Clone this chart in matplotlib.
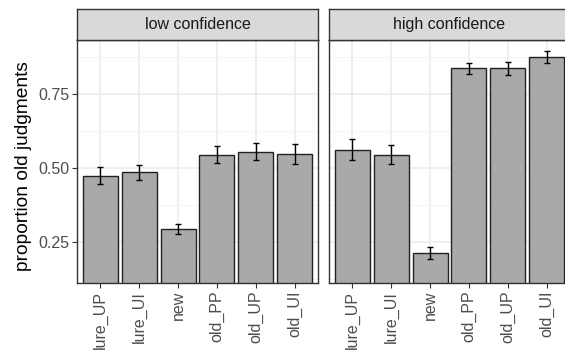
import numpy as np
import matplotlib
matplotlib.use('Agg')
import matplotlib.pyplot as plt

plt.rcParams['font.family'] = ['Liberation Sans', 'DejaVu Sans']

categories = ['lure_UP', 'lure_UI', 'new', 'old_PP', 'old_UP', 'old_UI']
panels = ['low confidence', 'high confidence']
low_means = [0.474, 0.485, 0.292, 0.544, 0.554, 0.546]
low_errs = [0.028, 0.026, 0.017, 0.029, 0.029, 0.033]
high_means = [0.562, 0.545, 0.211, 0.836, 0.836, 0.874]
high_errs = [0.035, 0.032, 0.020, 0.019, 0.022, 0.020]
y_ticks = [0.25, 0.50, 0.75]
y_tick_labels = ['0.25', '0.50', '0.75']

W, H = 565, 354
fig = plt.figure(figsize=(W / 100, H / 100), dpi=100)

border = '#333333'
tick_col = '#4D4D4D'


def px(x0, y0, x1, y1):
    # pixel box (top-left origin) -> figure fraction rect
    return [x0 / W, (H - y1) / H, (x1 - x0) / W, (y1 - y0) / H]


panel_x = [(77, 318), (329, 570)]
data = [(low_means, low_errs), (high_means, high_errs)]

for i, (name, (x0, x1), (means, errs)) in enumerate(zip(panels, panel_x, data)):
    ax = fig.add_axes(px(x0, 40, x1, 283))
    pos = np.arange(len(categories))
    ax.bar(pos, means, width=0.9, color='#A9A9A9', edgecolor='#222222',
           linewidth=1.0, zorder=2)
    ax.errorbar(pos, means, yerr=errs, fmt='none', ecolor='black',
                elinewidth=1.0, capsize=2, capthick=1.0, zorder=3)
    ax.set_xlim(-0.6, len(categories) - 0.4)
    ax.set_ylim(0.111, 0.932)
    ax.set_yticks(y_ticks)
    ax.set_yticks([0.125, 0.375, 0.625, 0.875], minor=True)
    ax.set_xticks(pos)
    ax.set_xticklabels(categories, rotation=90, fontsize=11.5, color=tick_col)
    ax.grid(True, which='major', color='#EBEBEB', linewidth=1.1, zorder=0)
    ax.grid(True, which='minor', axis='y', color='#F2F2F2', linewidth=0.6, zorder=0)
    ax.set_axisbelow(True)
    ax.tick_params(axis='both', which='major', length=3.5, width=0.8,
                   color=border, labelsize=11.5, labelcolor=tick_col, pad=2)
    ax.tick_params(axis='y', which='minor', length=0)
    for s in ax.spines.values():
        s.set_color(border)
        s.set_linewidth(1.0)
    if i == 0:
        ax.set_yticklabels(y_tick_labels)
        ax.set_ylabel('proportion old judgments', fontsize=13.8)
        ax.yaxis.set_label_coords(-0.187, 0.48)
    else:
        ax.set_yticklabels([])
        ax.tick_params(axis='y', which='major', length=0)

    sax = fig.add_axes(px(x0, 9, x1, 40))
    sax.set_facecolor('#D9D9D9')
    sax.set_xticks([])
    sax.set_yticks([])
    for s in sax.spines.values():
        s.set_color(border)
        s.set_linewidth(1.0)
    sax.text(0.5, 0.5, name, transform=sax.transAxes, ha='center', va='center',
             fontsize=11.5, color='#1A1A1A')

fig.savefig('out.png', dpi=100)
